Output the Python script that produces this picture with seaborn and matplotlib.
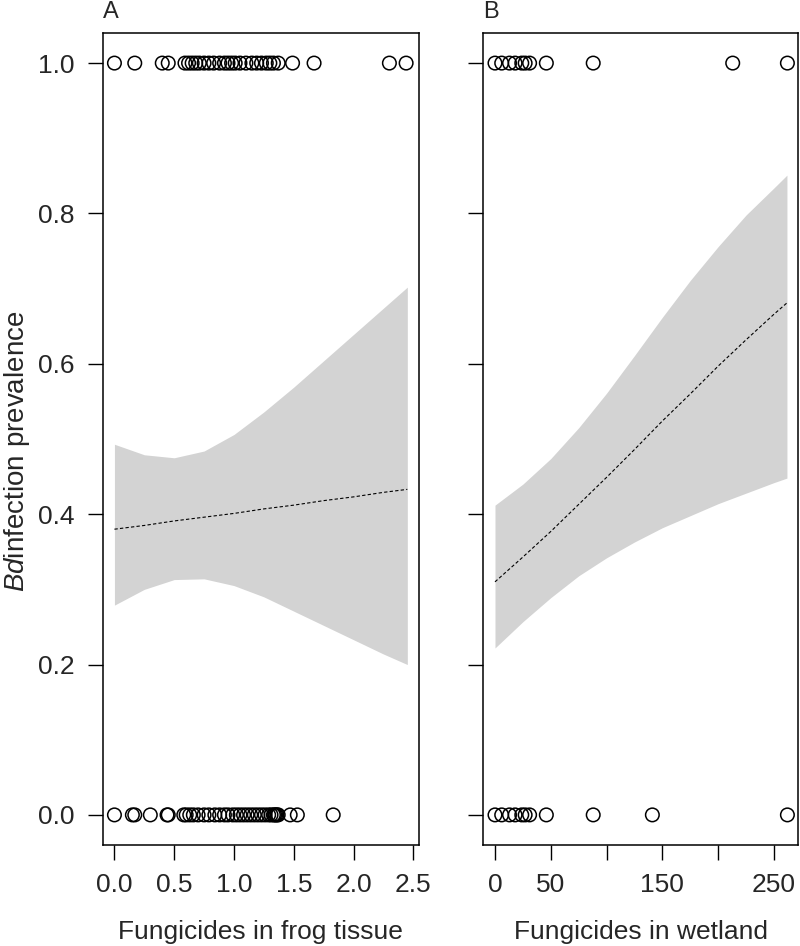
"""
plot.py

Two-panel figure: Bd infection prevalence against fungicide load in frog
tissue (A) and in the wetland (B), with fitted curve and confidence band.
Saves out.png.
"""

import matplotlib
matplotlib.use("Agg")
import matplotlib.pyplot as plt
import pandas as pd
import seaborn as sns

# observed frogs (1 = infected, 0 = not infected)
tissue_pos = [0.0, 0.17, 0.40, 0.45, 0.59, 0.62, 0.65, 0.68, 0.71, 0.75, 0.79, 0.83,
              0.88, 0.92, 0.95, 0.98, 1.01, 1.05, 1.10, 1.15, 1.19, 1.23, 1.27, 1.30,
              1.33, 1.37, 1.49, 1.67, 2.30, 2.44]
tissue_neg = [0.0, 0.15, 0.17, 0.30, 0.44, 0.45, 0.58, 0.60, 0.63, 0.66, 0.70, 0.75,
              0.79, 0.84, 0.88, 0.92, 0.95, 0.99, 1.02, 1.05, 1.08, 1.11, 1.14, 1.17,
              1.20, 1.23, 1.26, 1.29, 1.31, 1.33, 1.34, 1.35, 1.36, 1.37, 1.47, 1.53, 1.83]
wetland_pos = [0, 6, 13, 18, 24, 27, 31, 46, 88, 213, 262]
wetland_neg = [0, 6, 13, 18, 24, 27, 31, 46, 88, 141, 262]

# fitted curve and 95% band
tissue_x = [0.0, 0.25, 0.5, 0.75, 1.0, 1.25, 1.5, 1.75, 2.0, 2.25, 2.45]
tissue_fit = [0.380, 0.385, 0.391, 0.396, 0.401, 0.407, 0.412, 0.418, 0.423, 0.429, 0.433]
tissue_hi = [0.493, 0.479, 0.475, 0.484, 0.506, 0.536, 0.569, 0.604, 0.639, 0.674, 0.702]
tissue_lo = [0.279, 0.300, 0.313, 0.314, 0.305, 0.290, 0.271, 0.252, 0.233, 0.214, 0.200]

wetland_x = [0, 25, 50, 75, 100, 125, 150, 175, 200, 225, 250, 261.6]
wetland_fit = [0.310, 0.343, 0.377, 0.413, 0.449, 0.486, 0.524, 0.560, 0.597, 0.632, 0.666, 0.681]
wetland_hi = [0.412, 0.440, 0.474, 0.515, 0.561, 0.611, 0.662, 0.711, 0.756, 0.798, 0.834, 0.851]
wetland_lo = [0.222, 0.257, 0.289, 0.318, 0.342, 0.363, 0.382, 0.398, 0.414, 0.428, 0.442, 0.448]

sns.set_style("ticks")
plt.rcParams["font.family"] = ["Liberation Sans", "DejaVu Sans"]
plt.rcParams["mathtext.fontset"] = "custom"
plt.rcParams["mathtext.rm"] = "Liberation Sans"
plt.rcParams["mathtext.it"] = "Liberation Sans:italic"

FS = 19


def points_frame(pos, neg):
    return pd.DataFrame({
        "x": list(pos) + list(neg),
        "y": [1.0] * len(pos) + [0.0] * len(neg),
    })


def draw_panel(ax, pts, cx, fit, lo, hi, xlim, xticks, xticklabels, xlabel, tag):
    ax.fill_between(cx, lo, hi, color="#d3d3d3", linewidth=0, zorder=1)
    sns.lineplot(x=cx, y=fit, ax=ax, color="black", linewidth=0.8,
                 linestyle=(0, (3, 2)), zorder=2)
    sns.scatterplot(data=pts, x="x", y="y", ax=ax, s=95, marker="o",
                    facecolor="none", edgecolor="black", linewidth=1.1,
                    zorder=3, clip_on=False)
    ax.set_xlim(*xlim)
    ax.set_ylim(-0.04, 1.04)
    ax.set_xticks(xticks)
    ax.set_xticklabels(xticklabels, fontsize=FS)
    ax.set_yticks([0.0, 0.2, 0.4, 0.6, 0.8, 1.0])
    ax.set_xlabel(xlabel, fontsize=FS, labelpad=17)
    ax.set_ylabel("")
    for sp in ax.spines.values():
        sp.set_visible(True)
        sp.set_linewidth(1.1)
        sp.set_color("black")
    ax.tick_params(direction="out", length=11, width=1.0, color="black",
                   pad=9, labelsize=FS)
    ax.text(0.0, 1.012, tag, transform=ax.transAxes, fontsize=FS - 2,
            ha="left", va="bottom")


fig = plt.figure(figsize=(8.0, 9.46), dpi=100)
ax_a = fig.add_axes([0.1284, 0.1068, 0.3954, 0.8583])
ax_b = fig.add_axes([0.6041, 0.1068, 0.3934, 0.8583])

draw_panel(ax_a, points_frame(tissue_pos, tissue_neg), tissue_x, tissue_fit,
           tissue_lo, tissue_hi, (-0.098, 2.548),
           [0.0, 0.5, 1.0, 1.5, 2.0, 2.5], ["0.0", "0.5", "1.0", "1.5", "2.0", "2.5"],
           "Fungicides in frog tissue", "A")
ax_a.set_yticklabels(["0.0", "0.2", "0.4", "0.6", "0.8", "1.0"], fontsize=FS)
ax_a.set_ylabel(r"$\mathit{Bd}$infection prevalence", fontsize=FS + 1)
ax_a.yaxis.set_label_coords(-0.222, 0.485)

draw_panel(ax_b, points_frame(wetland_pos, wetland_neg), wetland_x, wetland_fit,
           wetland_lo, wetland_hi, (-10.5, 271.5),
           [0, 50, 100, 150, 200, 250], ["0", "50", "", "150", "", "250"],
           "Fungicides in wetland", "B")
ax_b.set_yticklabels([])

fig.savefig("out.png", dpi=100)
